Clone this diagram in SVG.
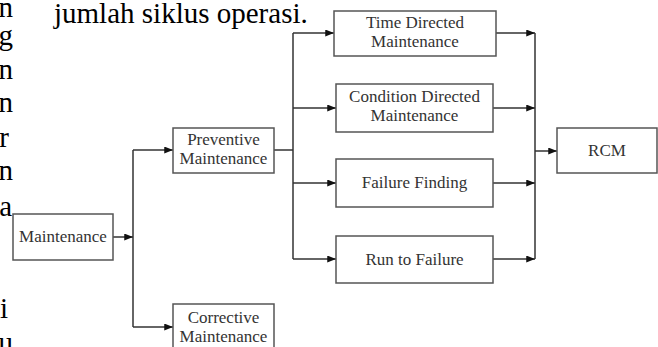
<svg xmlns="http://www.w3.org/2000/svg" width="658" height="347" viewBox="0 0 658 347">
<style>
.page{font-family:"Liberation Serif","Times New Roman",serif;font-size:29px;fill:#000}
.box{fill:#fff;stroke:#555;stroke-width:1.5}
.lbl{font-family:"Liberation Serif","Times New Roman",serif;font-size:17px;fill:#333;text-anchor:middle}
.con{fill:none;stroke:#333;stroke-width:1.5}
</style>
<defs>
<marker id="ah" viewBox="0 0 10 8" refX="10" refY="4" markerWidth="10" markerHeight="7" markerUnits="userSpaceOnUse" orient="auto">
<path d="M0,0 L10,4 L0,8 Z" fill="#111"/>
</marker>
</defs>
<rect width="658" height="347" fill="#fff"/>
<g id="page-text" class="page">
<text x="54" y="23">jumlah siklus operasi.</text>
<g text-anchor="end">
<text x="13" y="17">n</text>
<text x="13" y="45">g</text>
<text x="13" y="79">n</text>
<text x="13" y="112">n</text>
<text x="9" y="147">r</text>
<text x="13" y="180">n</text>
<text x="12" y="216">a</text>
<text x="8" y="318">i</text>
<text x="13" y="352">u</text>
</g>
</g>
<g id="connectors">
<path class="con" d="M113,237 H133" marker-end="url(#ah)"/>
<path class="con" d="M133,150 V327"/>
<path class="con" d="M133,150 H173" marker-end="url(#ah)"/>
<path class="con" d="M133,327 H173" marker-end="url(#ah)"/>
<path class="con" d="M274,150 H293"/>
<path class="con" d="M293,33 V259"/>
<path class="con" d="M293,33 H334" marker-end="url(#ah)"/>
<path class="con" d="M293,108 H336" marker-end="url(#ah)"/>
<path class="con" d="M293,183 H336" marker-end="url(#ah)"/>
<path class="con" d="M293,259 H336" marker-end="url(#ah)"/>
<path class="con" d="M496,33 H535" marker-end="url(#ah)"/>
<path class="con" d="M493,108 H535" marker-end="url(#ah)"/>
<path class="con" d="M493,183 H535" marker-end="url(#ah)"/>
<path class="con" d="M493,259 H535" marker-end="url(#ah)"/>
<path class="con" d="M535,33 V259"/>
<path class="con" d="M535,151 H557" marker-end="url(#ah)"/>
</g>
<g id="maintenance">
<rect class="box" x="13" y="214" width="100" height="46"/>
<text class="lbl" x="63" y="242">Maintenance</text>
</g>
<g id="preventive">
<rect class="box" x="173" y="128" width="101" height="45"/>
<text class="lbl" x="223.5" y="145">Preventive</text>
<text class="lbl" x="223.5" y="164">Maintenance</text>
</g>
<g id="corrective">
<rect class="box" x="173" y="304" width="101" height="50"/>
<text class="lbl" x="223.5" y="323">Corrective</text>
<text class="lbl" x="223.5" y="342">Maintenance</text>
</g>
<g id="time-directed">
<rect class="box" x="334" y="11" width="162" height="45"/>
<text class="lbl" x="415" y="28">Time Directed</text>
<text class="lbl" x="415" y="47">Maintenance</text>
</g>
<g id="condition-directed">
<rect class="box" x="336" y="84" width="157" height="48"/>
<text class="lbl" x="414.5" y="102">Condition Directed</text>
<text class="lbl" x="414.5" y="121">Maintenance</text>
</g>
<g id="failure-finding">
<rect class="box" x="336" y="159" width="157" height="48"/>
<text class="lbl" x="414.5" y="188">Failure Finding</text>
</g>
<g id="run-to-failure">
<rect class="box" x="336" y="236" width="157" height="47"/>
<text class="lbl" x="414.5" y="265">Run to Failure</text>
</g>
<g id="rcm">
<rect class="box" x="557" y="128" width="100" height="45"/>
<text class="lbl" x="607" y="156">RCM</text>
</g>
</svg>
